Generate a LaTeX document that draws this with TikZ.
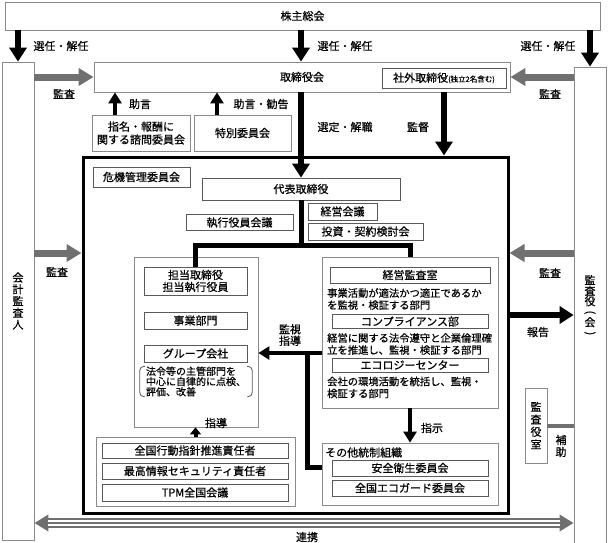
\documentclass[tikz,border=0pt]{standalone}
\usepackage{fontspec}
\usepackage{graphicx}
\setmainfont{Noto Sans CJK JP}[FakeBold=0.6]
\usetikzlibrary{arrows.meta,positioning}

\definecolor{kansagray}{HTML}{707070}
\definecolor{framegray}{HTML}{8A8A8A}

\tikzset{
	box/.style={draw=framegray, line width=0.8pt, fill=white, inner sep=0pt, align=center},
	innerbox/.style={box, draw=black!65},
	note/.style={inner sep=0pt, align=center},
	desc/.style={inner sep=0pt, align=left, anchor=west, font=\fontsize{10.3}{12}\selectfont},
	vtext/.style={font=\fontsize{11}{11.75}\selectfont},
	bigarrow/.style={line width=6pt, -{Triangle[width=17pt,length=14pt]}},
	smallarrow/.style={line width=4.5pt, -{Triangle[width=13pt,length=11pt]}},
	shortarrow/.style={line width=4pt, -{Triangle[width=11pt,length=7pt]}},
	grayarrow/.style={kansagray, line width=7pt, -{Triangle[width=17pt,length=15pt]}},
	thickline/.style={line width=5pt},
	renkei/.style={kansagray, line width=10pt, {Triangle[width=16pt,length=14pt]}-{Triangle[width=16pt,length=14pt]}}
}

\begin{document}
\begin{tikzpicture}[x=1pt, y=-1pt, font=\fontsize{11}{13}\selectfont]
	%\draw[help lines] (0,0) grid[step=20] (608,542);
	\useasboundingbox (0,0) rectangle (608,542);
	
	% outer frame
	\node[box, minimum width=595pt, minimum height=28pt] (kabunushi) at (302.5,16) {株主総会};
	\node[box, vtext, minimum width=32pt, minimum height=478pt] (kaikei) at (18,301) {会\\計\\監\\査\\人};
	\node[box, vtext, minimum width=32pt, minimum height=478pt, font=\fontsize{11}{10.5}\selectfont] (kansayaku) at (590,306) {監\\査\\役\\\rotatebox[origin=c]{-90}{(}\\会\\\rotatebox[origin=c]{-90}{)}};
	\node[box, minimum width=416pt, minimum height=30pt] (torishimari) at (302,77) {取締役会};
	\node[innerbox, minimum width=124pt, minimum height=20pt] (shagai) at (444,78) {社外取締役{\fontsize{7.5}{9}\selectfont (独立2名含む)}};
	\node[box, minimum width=98pt, minimum height=36pt] (shimei) at (141,133) {指名・報酬に\\関する諮問委員会};
	\node[box, minimum width=97pt, minimum height=36pt] (tokubetsu) at (242.5,133) {特別委員会};
	
	\node[draw, line width=3pt, minimum width=425pt, minimum height=356pt] (executive) at (295.5,335) {};
	\node[innerbox, minimum width=97pt, minimum height=20pt] (kiki) at (141.5,177) {危機管理委員会};
	\node[innerbox, minimum width=198pt, minimum height=22pt] (daihyo) at (301,189) {代表取締役};
	\node[innerbox, minimum width=107pt, minimum height=16pt] (shikkoyakuin) at (239.5,222.5) {執行役員会議};
	\node[innerbox, minimum width=69pt, minimum height=17pt] (keieikaigi) at (342.5,211.5) {経営会議};
	\node[innerbox, minimum width=115pt, minimum height=17pt] (toshi) at (365.5,231.5) {投資・契約検討会};
	
	% left group
	\node[box, minimum width=124pt, minimum height=170pt] (tantogrp) at (196,342) {};
	\node[innerbox, minimum width=103pt, minimum height=28pt, font=\fontsize{11}{12}\selectfont] (tanto) at (195.5,281) {担当取締役\\担当執行役員};
	\node[innerbox, minimum width=103pt, minimum height=17pt] (jigyo) at (195.5,320.5) {事業部門};
	\node[innerbox, minimum width=103pt, minimum height=17pt] (group) at (195.5,353.5) {グループ会社};
	\node[note, align=left, minimum width=112pt, minimum height=29pt, font=\fontsize{10}{10.3}\selectfont] (jiritsu) at (196,381.5) {法令等の主管部門を\\中心に自律的に点検、\\評価、改善};
	\draw[black!65, line width=0.8pt, rounded corners=4pt] ([xshift=5pt]jiritsu.north west) -| (jiritsu.south west) -- ++(5,0);
	\draw[black!65, line width=0.8pt, rounded corners=4pt] ([xshift=-5pt]jiritsu.north east) -| (jiritsu.south east) -- ++(-5,0);
	
	% right group
	\node[box, minimum width=176pt, minimum height=151pt] (kansagrp) at (410,332.5) {};
	\node[innerbox, minimum width=160pt, minimum height=16pt] (kansashitsu) at (410,275) {経営監査室};
	\node[desc] (desc1) at (327,299) {事業活動が適法かつ適正であるか\\を監視・検証する部門};
	\node[innerbox, minimum width=156pt, minimum height=14pt] (compliance) at (410,321.5) {コンプライアンス部};
	\node[desc] (desc2) at (327,344) {経営に関する法令遵守と企業倫理確\\立を推進し、監視・検証する部門};
	\node[innerbox, minimum width=156pt, minimum height=14pt] (ecology) at (410,365) {エコロジーセンター};
	\node[desc] (desc3) at (327,387.5) {会社の環境活動を統括し、監視・\\検証する部門};
	
	\node[box, minimum width=176pt, minimum height=62pt] (sonota) at (410,474) {};
	\node[note, anchor=west] (sonotalbl) at (325,452.5) {その他統制組織};
	\node[innerbox, minimum width=156pt, minimum height=16pt] (anzen) at (410,468) {安全衛生委員会};
	\node[innerbox, minimum width=156pt, minimum height=16pt] (ecoguard) at (410,488) {全国エコガード委員会};
	
	\node[box, minimum width=199pt, minimum height=69pt] (suishin) at (195.5,471.5) {};
	\node[innerbox, minimum width=186pt, minimum height=15pt] (kodo) at (195,450.5) {全国行動指針推進責任者};
	\node[innerbox, minimum width=186pt, minimum height=16pt] (security) at (195,471) {最高情報セキュリティ責任者};
	\node[innerbox, minimum width=186pt, minimum height=17pt] (tpm) at (195,492.5) {TPM全国会議};
	
	\node[box, minimum width=22pt, minimum height=75pt, font=\fontsize{11}{12.5}\selectfont] (kansayakushitsu) at (536,425.5) {監\\査\\役\\室};
	
	% arrows
	\draw[bigarrow] (kabunushi.south -| kaikei) -- (kaikei.north);
	\draw[bigarrow] (kabunushi.south -| daihyo) -- (torishimari.north -| daihyo);
	\draw[bigarrow] (kabunushi.south -| kansayaku) -- (kansayaku.north);
	\node[note] (senninL) at (61,46) {選任・解任};
	\node[note] (senninC) at (345,46) {選任・解任};
	\node[note] (senninR) at (548,46) {選任・解任};
	
	\draw[grayarrow] (kaikei.east |- torishimari.west) -- (torishimari.west);
	\draw[grayarrow] (kansayaku.west |- torishimari.east) -- (torishimari.east);
	\node[note] (kansaL1) at (64,94) {監査};
	\node[note] (kansaR1) at (550,94) {監査};
	
	\draw[smallarrow] ([xshift=-26pt]shimei.north) -- ([xshift=-26pt]shimei.north |- torishimari.south);
	\draw[smallarrow] ([xshift=-25.5pt]tokubetsu.north) -- ([xshift=-25.5pt]tokubetsu.north |- torishimari.south);
	\node[note] (jogen) at (140,104) {助言};
	\node[note] (kankoku) at (261,104) {助言・勧告};
	
	\draw[bigarrow] (torishimari.south -| daihyo) -- (daihyo.north);
	\draw[bigarrow] (torishimari.south -| shagai) -- (executive.north -| shagai);
	\node[note] (sentei) at (345,127) {選定・解職};
	\node[note] (kantoku) at (418,127) {監督};
	
	\coordinate (kansaY) at (0,253);
	\coordinate (hokokuY) at (0,315);
	\draw[grayarrow] (kaikei.east |- kansaY) -- (executive.west |- kansaY);
	\draw[grayarrow] (kansayaku.west |- kansaY) -- (executive.east |- kansaY);
	\draw[bigarrow] (executive.east |- hokokuY) -- (kansayaku.west |- hokokuY);
	\node[note] (kansaL2) at (57,272) {監査};
	\node[note] (kansaR2) at (550,273) {監査};
	\node[note] (hokoku) at (538,332) {報告};
	
	\coordinate (bunki) at (301,245);
	\draw[thickline] (daihyo.south) -- (bunki) -| (tanto.north);
	\draw[thickline] (bunki) -| (kansagrp.north);
	
	\coordinate (kanshiY) at (0,353);
	\coordinate (kanshibunki) at (307,353);
	\draw[smallarrow] (kansagrp.west |- kanshiY) -- (tantogrp.east |- kanshiY);
	\draw[thickline] (kanshibunki) |- ([yshift=7pt]sonota.west);
	\node[note, font=\fontsize{11}{11.5}\selectfont] (kanshishido) at (290,335) {監視\\指導};
	
	\draw[smallarrow] (kansagrp.south) -- (sonota.north);
	\node[note] (shiji) at (432,428) {指示};
	\draw[shortarrow] (suishin.north -| tanto) -- (tantogrp.south -| tanto);
	\node[note] (shido) at (216,423) {指導};
	
	\draw[kansagray, line width=4pt] (kansayakushitsu.east) -- (kansayakushitsu.east -| kansayaku.west);
	\node[note, font=\fontsize{11}{12}\selectfont] (hojo) at (561,446) {補\\助};
	
	\coordinate (renkeiY) at (0,523);
	\draw[renkei] (kaikei.east |- renkeiY) -- (kansayaku.west |- renkeiY);
	\draw[white, line width=6pt, shorten <=14pt, shorten >=14pt] (kaikei.east |- renkeiY) -- (kansayaku.west |- renkeiY);
	\draw[kansagray, line width=2pt, shorten <=14pt, shorten >=14pt] (kaikei.east |- renkeiY) -- (kansayaku.west |- renkeiY);
	\node[note] (renkeilbl) at (307,537) {連携};
\end{tikzpicture}
\end{document}
